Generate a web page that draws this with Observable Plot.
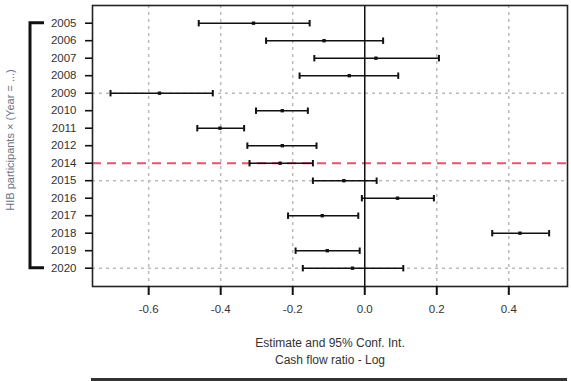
<!DOCTYPE html>
<html>
<head>
<meta charset="utf-8">
<script src="https://cdn.jsdelivr.net/npm/d3@7"></script>
<script src="https://cdn.jsdelivr.net/npm/@observablehq/plot@0.6"></script>
<style>
  html, body { margin: 0; padding: 0; background: #fff; }
  #chart svg { display: block; }
</style>
</head>
<body>
<div id="chart"></div>
<script>
// Data
const years    = ["2005","2006","2007","2008","2009","2010","2011","2012","2014","2015","2016","2017","2018","2019","2020"];
const estimate = [-0.309,-0.113, 0.031,-0.043,-0.570,-0.229,-0.402,-0.229,-0.235,-0.058, 0.091,-0.118, 0.431,-0.104,-0.034];
const lower    = [-0.461,-0.274,-0.140,-0.181,-0.706,-0.302,-0.465,-0.326,-0.320,-0.144,-0.008,-0.213, 0.354,-0.192,-0.172];
const upper    = [-0.153, 0.051, 0.206, 0.093,-0.422,-0.158,-0.335,-0.134,-0.144, 0.033, 0.192,-0.018, 0.512,-0.014, 0.107];
const xTicks   = [-0.6,-0.4,-0.2,0.0,0.2,0.4];
const gridYears = ["2009","2015","2020"];
const refYear  = "2014";
const xDomain  = [-0.756, 0.563];
const yTitle   = "HIB participants × (Year = ...)";
const xTitle1  = "Estimate and 95% Conf. Int.";
const xTitle2  = "Cash flow ratio - Log";

const rows = years.map((y, i) => ({year: y, est: estimate[i], lo: lower[i], hi: upper[i]}));
const font = "'Liberation Sans', Arial, sans-serif";

// vertical cap symbol for the error bars
const capSymbol = {
  draw(context, size) {
    const h = Math.sqrt(size / Math.PI);
    context.moveTo(0, -h);
    context.lineTo(0, h);
  }
};

// bracket + bottom rule drawn with the plot's own scales
const decorations = (index, scales, values, dimensions) => {
  const g = d3.create("svg:g");
  const y0 = scales.y(years[0]), y1 = scales.y(years[years.length - 1]);
  const bx = dimensions.marginLeft - 62;
  g.append("path")
    .attr("d", `M${bx + 14},${y0}H${bx}V${y1}H${bx + 14}`)
    .attr("fill", "none").attr("stroke", "#111").attr("stroke-width", 3);
  g.append("line")
    .attr("x1", dimensions.marginLeft - 1).attr("x2", dimensions.width - dimensions.marginRight)
    .attr("y1", dimensions.height - 1.5).attr("y2", dimensions.height - 1.5)
    .attr("stroke", "#333").attr("stroke-width", 3);
  return g.node();
};

const chart = Plot.plot({
  width: 571,
  height: 381,
  marginLeft: 92,
  marginRight: 4,
  marginTop: 5,
  marginBottom: 95,
  style: {fontFamily: font, background: "#fff"},
  x: {domain: xDomain, ticks: xTicks},
  y: {type: "point", domain: years, padding: 0, round: false, insetTop: 17.7, insetBottom: 18.3},
  marks: [
    Plot.ruleX(xTicks.filter(t => t !== 0), {stroke: "#bbb", strokeWidth: 1.5, strokeDasharray: "3,4"}),
    Plot.ruleY(gridYears, {stroke: "#bbb", strokeWidth: 1.5, strokeDasharray: "3,4"}),
    Plot.ruleY([refYear], {stroke: "#e5566c", strokeWidth: 2, strokeDasharray: "9,6"}),
    Plot.ruleX([0], {stroke: "#111", strokeWidth: 1.5}),
    Plot.ruleY(rows, {y: "year", x1: "lo", x2: "hi", stroke: "#111", strokeWidth: 1.6}),
    Plot.dot(rows, {x: "lo", y: "year", symbol: capSymbol, r: 3.2, stroke: "#111", strokeWidth: 2, fill: null}),
    Plot.dot(rows, {x: "hi", y: "year", symbol: capSymbol, r: 3.2, stroke: "#111", strokeWidth: 2, fill: null}),
    Plot.dot(rows, {x: "est", y: "year", symbol: "square", r: 1.9, fill: "#111", stroke: null}),
    Plot.frame({stroke: "#222", strokeWidth: 1.6}),
    Plot.axisX({ticks: xTicks, tickSize: 9, tickPadding: 9, tickFormat: d => d.toFixed(1),
      fontSize: 11.5, fill: "#333", stroke: "#111", strokeWidth: 2, label: null}),
    Plot.axisY({tickSize: 7, tickPadding: 9, fontSize: 11.5, fill: "#333", stroke: "#111", strokeWidth: 1.6, label: null}),
    Plot.text([yTitle], {frameAnchor: "left", dx: -82, dy: -6, rotate: -90, textAnchor: "middle",
      fontSize: 11, fill: "#6a7282", text: d => d}),
    Plot.text([xTitle1], {frameAnchor: "bottom", dy: 57, fontSize: 12, fill: "#333", text: d => d, lineAnchor: "middle"}),
    Plot.text([xTitle2], {frameAnchor: "bottom", dy: 74, fontSize: 12, fill: "#333", text: d => d, lineAnchor: "middle"}),
    decorations
  ]
});
document.getElementById("chart").appendChild(chart);
</script>
</body>
</html>
